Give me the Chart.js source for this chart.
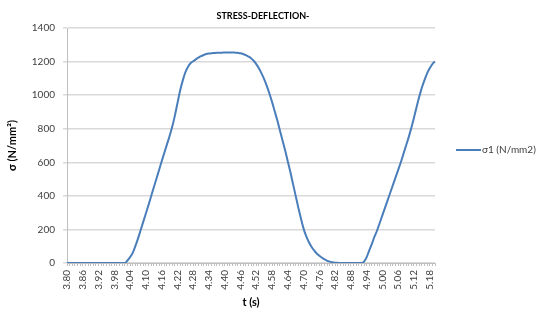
<!DOCTYPE html>
<html>
<head>
<meta charset="utf-8">
<script src="https://cdn.jsdelivr.net/npm/chart.js@4/dist/chart.umd.min.js"></script>
<style>
  html, body { margin: 0; padding: 0; background: #fff; }
  #chart { display: block; }
</style>
</head>
<body>
<canvas id="chart" width="544" height="309"></canvas>
<script>
// time steps (s), one per category
var times = [
  '3.80','3.81','3.82','3.83','3.84','3.85','3.86','3.87','3.88','3.89',
  '3.90','3.91','3.92','3.93','3.94','3.95','3.96','3.97','3.98','3.99',
  '4.00','4.01','4.02','4.03','4.04','4.05','4.06','4.07','4.08','4.09',
  '4.10','4.11','4.12','4.13','4.14','4.15','4.16','4.17','4.18','4.19',
  '4.20','4.21','4.22','4.23','4.24','4.25','4.26','4.27','4.28','4.29',
  '4.30','4.31','4.32','4.33','4.34','4.35','4.36','4.37','4.38','4.39',
  '4.40','4.41','4.42','4.43','4.44','4.45','4.46','4.47','4.48','4.49',
  '4.50','4.51','4.52','4.53','4.54','4.55','4.56','4.57','4.58','4.59',
  '4.60','4.61','4.62','4.63','4.64','4.65','4.66','4.67','4.68','4.69',
  '4.70','4.71','4.72','4.73','4.74','4.75','4.76','4.77','4.78','4.79',
  '4.80','4.81','4.82','4.83','4.84','4.85','4.86','4.87','4.88','4.89',
  '4.90','4.91','4.92','4.93','4.94','4.95','4.96','4.97','4.98','4.99',
  '5.00','5.01','5.02','5.03','5.04','5.05','5.06','5.07','5.08','5.09',
  '5.10','5.11','5.12','5.13','5.14','5.15','5.16','5.17','5.18','5.19',
  '5.20'
];

// σ1 (N/mm2)
var sigma1 = [
  0, 0, 0, 0, 0, 0, 0, 0, 0, 0,
  0, 0, 0, 0, 0, 0, 0, 0, 0, 0,
  0, 0, 0, 15, 35, 60, 100, 145, 195, 245,
  295, 345, 398, 450, 500, 553, 605, 655, 705, 755,
  810, 875, 950, 1025, 1085, 1135, 1168, 1190, 1202, 1213,
  1223, 1232, 1239, 1245, 1248, 1250, 1251, 1252, 1252, 1253,
  1254, 1254, 1254, 1254, 1253, 1252, 1250, 1245, 1238, 1230,
  1220, 1205, 1185, 1160, 1130, 1095, 1055, 1010, 960, 905,
  850, 790, 730, 670, 605, 540, 470, 400, 330, 265,
  205, 160, 125, 97, 75, 57, 43, 31, 21, 13,
  8, 4, 2, 1, 0, 0, 0, 0, 0, 0,
  0, 0, 0, 8, 35, 75, 115, 158, 195, 240,
  285, 330, 375, 420, 465, 510, 555, 600, 650, 700,
  750, 805, 865, 930, 990, 1045, 1090, 1130, 1160, 1185,
  1200
];

var yTicks = [0, 200, 400, 600, 800, 1000, 1200, 1400];
var labelEvery = 6;
var chartTitle = 'STRESS-DEFLECTION-';
var seriesName = 'σ1 (N/mm2)';

var FONT = 'Lato, "Liberation Sans", sans-serif';

// title + legend drawn by hand so the plot area stays where Excel put it
var decorations = {
  id: 'decorations',
  afterDraw: function (chart) {
    var ctx = chart.ctx;
    var ds = chart.data.datasets[0];
    ctx.save();
    ctx.fillStyle = '#000';
    ctx.font = 'bold 9px ' + FONT;
    ctx.textAlign = 'center';
    ctx.textBaseline = 'middle';
    ctx.fillText(chartTitle, 263, 16);

    var ly = 150;
    ctx.strokeStyle = ds.borderColor;
    ctx.lineWidth = 2;
    ctx.beginPath();
    ctx.moveTo(456, ly);
    ctx.lineTo(481, ly);
    ctx.stroke();
    ctx.fillStyle = '#404040';
    ctx.font = '10px ' + FONT;
    ctx.textAlign = 'left';
    ctx.fillText(ds.label, 482, ly);
    ctx.restore();
  }
};

new Chart(document.getElementById('chart').getContext('2d'), {
  type: 'line',
  data: {
    labels: times,
    datasets: [{
      label: seriesName,
      data: sigma1,
      borderColor: '#4a7ebb',
      borderWidth: 2,
      pointRadius: 0,
      fill: false,
      cubicInterpolationMode: 'monotone'
    }]
  },
  options: {
    responsive: false,
    animation: false,
    layout: { padding: { top: 28, right: 109, bottom: 0, left: 0 } },
    plugins: {
      legend: { display: false },
      title: { display: false },
      tooltip: { enabled: false }
    },
    scales: {
      x: {
        type: 'category',
        offset: false,
        afterFit: function (scale) { scale.height = 46; },
        grid: { drawOnChartArea: false, drawTicks: true, tickLength: 3, color: '#bfbfbf' },
        border: { display: true, color: '#bfbfbf', width: 1 },
        ticks: {
          autoSkip: false,
          minRotation: 90,
          maxRotation: 90,
          padding: 4,
          color: '#404040',
          font: { family: FONT, size: 10 },
          callback: function (val, i) { return i % labelEvery === 0 ? times[i] : ''; }
        },
        title: {
          display: true,
          text: 't (s)',
          color: '#000',
          font: { family: FONT, size: 11, weight: 'bold' },
          padding: { top: 0, bottom: 0 }
        }
      },
      y: {
        min: 0,
        max: 1400,
        afterFit: function (scale) { scale.width = 67; },
        afterBuildTicks: function (scale) {
          scale.ticks = yTicks.map(function (v) { return { value: v }; });
        },
        grid: { color: '#d9d9d9', lineWidth: 1.5, tickLength: 4 },
        border: { display: true, color: '#bfbfbf', width: 1 },
        ticks: {
          padding: 8,
          color: '#404040',
          font: { family: FONT, size: 10 },
          callback: function (val) { return String(val); }
        },
        title: {
          display: true,
          text: 'σ (N/mm²)',
          color: '#000',
          font: { family: FONT, size: 11, weight: 'bold' },
          padding: { top: 6, bottom: 0 }
        }
      }
    }
  },
  plugins: [decorations]
});
</script>
</body>
</html>
